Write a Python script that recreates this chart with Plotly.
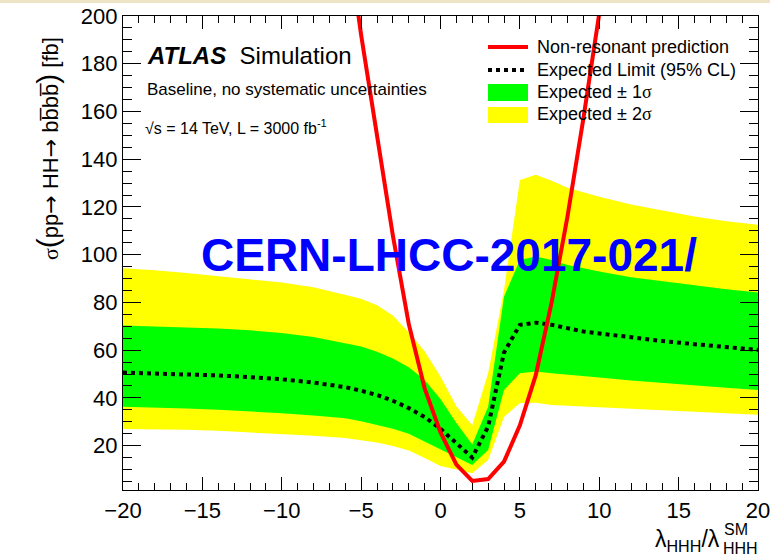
import plotly.graph_objects as go

# lambda_HHH / lambda_HHH^SM sampling points for the expected limit and bands
lam = [-20, -18, -16, -14, -12, -10, -8, -6, -5, -4, -3, -2, -1, 0, 1, 2,
       3, 4, 5, 6, 7, 8, 9, 10, 12, 14, 16, 18, 20]

exp_limit = [50.6, 50.3, 49.9, 49.4, 48.7, 47.8, 46.4, 44.5, 43.0, 41.2, 38.8, 35.7, 32.0, 27.0, 21.0, 15.0,
             28.0, 59.0, 70.6, 71.5, 70.6, 69.2, 67.8, 67.0, 65.3, 63.8, 62.5, 61.2, 60.1]
up_1sig = [70.3, 70.0, 69.6, 69.1, 68.3, 67.2, 65.5, 63.0, 61.5, 59.3, 56.5, 52.8, 47.5, 39.5, 29.5, 20.5,
           36.3, 82.4, 97.8, 99.2, 97.8, 95.7, 94.3, 93.0, 90.5, 88.8, 87.0, 85.5, 84.1]
dn_1sig = [36.3, 36.0, 35.5, 35.0, 34.4, 33.6, 32.6, 31.5, 30.2, 28.8, 27.1, 25.0, 21.8, 18.3, 15.4, 11.9,
           18.2, 43.3, 50.3, 51.0, 50.3, 49.6, 48.9, 48.5, 47.3, 46.2, 45.2, 44.2, 43.3]
up_2sig = [94.3, 93.5, 92.3, 91.0, 89.8, 88.3, 86.3, 83.3, 81.5, 78.8, 74.5, 67.5, 59.5, 49.0, 36.5, 28.5,
           50.4, 85.2, 131.3, 133.5, 131.0, 128.0, 126.0, 124.3, 121.0, 118.5, 116.0, 114.0, 112.5]
dn_2sig = [27.0, 26.9, 26.6, 26.2, 25.6, 24.9, 24.1, 23.2, 22.4, 21.3, 19.8, 17.9, 14.8, 11.5, 10.0, 8.4,
           14.0, 32.0, 37.8, 38.0, 37.0, 36.7, 36.3, 36.0, 35.3, 34.6, 34.0, 33.4, 32.9]

# non-resonant HH -> bbbb cross-section prediction
lam_pred = [-6, -5, -4, -3, -2, -1, 0, 1, 2, 3, 4, 5, 6, 7, 8, 9, 10, 11]
xsec_pred = [240.0, 192.0, 150.0, 108.0, 71.0, 44.0, 25.5, 12.0, 5.2, 6.0, 13.3, 28.5, 49.5, 80.0,
             116.0, 157.0, 201.0, 250.0]

x_ticks = [-20, -15, -10, -5, 0, 5, 10, 15, 20]
y_ticks = [20, 40, 60, 80, 100, 120, 140, 160, 180, 200]

FONT = "Liberation Sans, Arial, Helvetica, sans-serif"
YELLOW = "#ffff00"
GREEN = "#00ff00"
RED = "#ff0000"

# plot-area geometry in pixels (used for paper-coordinate placement of decorations)
W, H = 770, 556
L, R, T, B = 123, 12, 16, 66
PW, PH = W - L - R, H - T - B


def px(x):
    return (x - L) / PW


def py(y):
    return (H - B - y) / PH


fig = go.Figure()

# +/- 2 sigma band
fig.add_trace(go.Scatter(x=lam, y=dn_2sig, mode="lines", line=dict(width=0),
                         showlegend=False, hoverinfo="skip"))
fig.add_trace(go.Scatter(x=lam, y=up_2sig, mode="lines", line=dict(width=0),
                         fill="tonexty", fillcolor=YELLOW, showlegend=False))
# +/- 1 sigma band
fig.add_trace(go.Scatter(x=lam, y=dn_1sig, mode="lines", line=dict(width=0),
                         showlegend=False, hoverinfo="skip"))
fig.add_trace(go.Scatter(x=lam, y=up_1sig, mode="lines", line=dict(width=0),
                         fill="tonexty", fillcolor=GREEN, showlegend=False))
# expected limit
fig.add_trace(go.Scatter(x=lam, y=exp_limit, mode="lines",
                         line=dict(color="black", width=4, dash="4px,4px"),
                         showlegend=False))
# prediction
fig.add_trace(go.Scatter(x=lam_pred, y=xsec_pred, mode="lines",
                         line=dict(color=RED, width=4), showlegend=False))

axis_common = dict(
    showline=True, linecolor="black", linewidth=1.3, mirror="ticks",
    ticks="inside", tickcolor="black", tickwidth=1.3,
    showgrid=False, zeroline=False, automargin=False,
    ticklabeloverflow="allow",
    tickfont=dict(family=FONT, size=22, color="black"),
)

fig.update_xaxes(range=[-20, 20], tickvals=x_ticks, ticklen=13,
                 minor=dict(dtick=1, ticklen=7, ticks="inside", tickcolor="black",
                            tickwidth=1.2, showgrid=False),
                 **axis_common)
fig.update_yaxes(range=[1.4, 200], tickvals=y_ticks, ticklen=18,
                 minor=dict(dtick=5, tick0=0, ticklen=9, ticks="inside", tickcolor="black",
                            tickwidth=1.2, showgrid=False),
                 **axis_common)

ARROW = "<span style='font-family:DejaVu Sans'>→</span>"
BIG = "<span style='font-size:30px'>{}</span>"
SIGMA = "<span style='font-family:Liberation Serif'>σ</span>"

ann = []
# axis titles
ann.append(dict(
    text=SIGMA + BIG.format("(") + "pp" + ARROW + " HH" + ARROW + " bb\u0305bb\u0305" + BIG.format(")") + " [fb]",
    xref="paper", yref="paper", x=px(47), y=py(149), textangle=-90,
    xanchor="center", yanchor="middle", showarrow=False,
    font=dict(family=FONT, size=22, color="black")))
ann.append(dict(text="λ<sub>HHH</sub>/λ", xref="paper", yref="paper",
                x=px(722), y=py(540), xanchor="right", yanchor="middle", showarrow=False,
                font=dict(family=FONT, size=23, color="black")))
ann.append(dict(text="SM", xref="paper", yref="paper",
                x=px(722), y=py(529), xanchor="left", yanchor="middle", showarrow=False,
                font=dict(family=FONT, size=16, color="black")))
ann.append(dict(text="HHH", xref="paper", yref="paper",
                x=px(721), y=py(548), xanchor="left", yanchor="middle", showarrow=False,
                font=dict(family=FONT, size=16, color="black")))

# experiment labels
ann.append(dict(text="<b><i>ATLAS</i></b>  Simulation", xref="paper", yref="paper",
                x=px(145), y=py(55), xanchor="left", yanchor="middle", showarrow=False,
                font=dict(family=FONT, size=24, color="black")))
ann.append(dict(text="Baseline, no systematic uncertainties", xref="paper", yref="paper",
                x=px(145), y=py(89), xanchor="left", yanchor="middle", showarrow=False,
                font=dict(family=FONT, size=17, color="black")))
ann.append(dict(text="√s = 14 TeV, L = 3000 fb<sup>-1</sup>", xref="paper", yref="paper",
                x=px(143), y=py(127), xanchor="left", yanchor="middle", showarrow=False,
                font=dict(family=FONT, size=16, color="black")))

# legend text
legend_rows = [("Non-resonant prediction", 47), ("Expected Limit (95% CL)", 70),
               ("Expected ± 1" + SIGMA, 92), ("Expected ± 2" + SIGMA, 114)]
for txt, yy in legend_rows:
    ann.append(dict(text=txt, xref="paper", yref="paper", x=px(535), y=py(yy),
                    xanchor="left", yanchor="middle", showarrow=False,
                    font=dict(family=FONT, size=18, color="black")))

# document reference stamp
ann.append(dict(text="<b>CERN-LHCC-2017-021/</b>", xref="paper", yref="paper",
                x=px(449), y=py(255), xanchor="center", yanchor="middle", showarrow=False,
                font=dict(family=FONT, size=46, color="#0000ff")))

shapes = [
    # legend keys
    dict(type="line", xref="paper", yref="paper", x0=px(488), x1=px(528), y0=py(47), y1=py(47),
         line=dict(color=RED, width=4)),
    dict(type="line", xref="paper", yref="paper", x0=px(488), x1=px(528), y0=py(70), y1=py(70),
         line=dict(color="black", width=4, dash="4px,4px")),
    dict(type="rect", xref="paper", yref="paper", x0=px(488), x1=px(528), y0=py(101), y1=py(84),
         fillcolor=GREEN, line=dict(width=0)),
    dict(type="rect", xref="paper", yref="paper", x0=px(488), x1=px(528), y0=py(123), y1=py(107),
         fillcolor=YELLOW, line=dict(width=0)),
    # page strip along the top edge
    dict(type="rect", xref="paper", yref="paper", x0=px(0), x1=px(W), y0=py(3), y1=py(0),
         fillcolor="#efe4c6", line=dict(width=0), layer="below"),
]

fig.update_layout(
    width=W, height=H,
    margin=dict(l=L, r=R, t=T, b=B, pad=0),
    paper_bgcolor="white", plot_bgcolor="white",
    showlegend=False,
    annotations=ann, shapes=shapes,
    font=dict(family=FONT, color="black"),
)

fig.write_html("out.html")
